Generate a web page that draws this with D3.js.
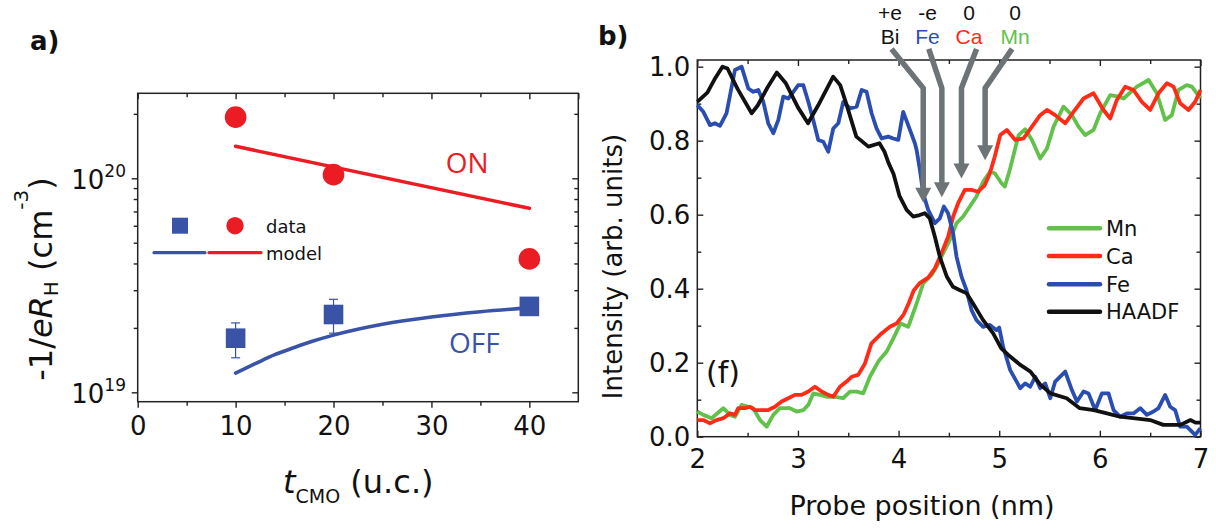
<!DOCTYPE html>
<html><head><meta charset="utf-8">
<script src="https://cdn.jsdelivr.net/npm/d3@7"></script>
<style>body{margin:0;background:#fff}svg{display:block}</style>
</head><body>
<svg id="c" width="1216" height="529"></svg>
<script>
// ---------- Panel a data ----------
const aThickness = [10, 20, 40];
const aOnData = [1.93e20, 1.04e20, 4.2e19];
const aOffData = [1.79e19, 2.31e19, 2.52e19];
const aOffErrLow = [1.45e19, 1.89e19, null];
const aOffErrHigh = [2.11e19, 2.72e19, null];
const aOnModelT = [10, 40];
const aOnModel = [1.41e20, 7.24e19];
const aOffModelT = [10, 12, 14, 16, 18, 20, 25, 30, 35, 40];
const aOffModel = [1.23e19, 1.36e19, 1.50e19, 1.62e19, 1.74e19, 1.85e19, 2.08e19, 2.25e19, 2.38e19, 2.48e19];
const aXTicks = [0, 10, 20, 30, 40];
const aXMinor = [5, 15, 25, 35];
const aYTicks = [1e19, 1e20];
const aYMinor = [2e19, 3e19, 4e19, 5e19, 6e19, 7e19, 8e19, 9e19, 2e20];

// ---------- Panel b data ----------
const bMnX = [2.0,2.06,2.142,2.258,2.325,2.374,2.44,2.507,2.556,2.623,2.689,2.755,2.821,2.92,2.987,3.053,3.103,3.152,3.219,3.285,3.351,3.45,3.517,3.583,3.649,3.715,3.798,3.881,3.947,4.02,4.096,4.179,4.244,4.328,4.377,4.443,4.509,4.576,4.642,4.708,4.774,4.84,4.907,4.956,5.023,5.056,5.105,5.155,5.192,5.258,5.325,5.407,5.474,5.54,5.639,5.722,5.788,5.854,5.937,6.003,6.103,6.185,6.235,6.368,6.484,6.566,6.649,6.715,6.781,6.864,6.914,7.0];
const bMnY = [0.068,0.059,0.05,0.077,0.059,0.054,0.086,0.081,0.077,0.045,0.027,0.059,0.077,0.077,0.068,0.072,0.086,0.117,0.113,0.108,0.108,0.104,0.122,0.122,0.117,0.162,0.203,0.23,0.265,0.306,0.297,0.36,0.414,0.437,0.459,0.496,0.532,0.577,0.595,0.622,0.649,0.689,0.716,0.712,0.685,0.676,0.721,0.775,0.815,0.831,0.802,0.752,0.779,0.838,0.892,0.869,0.838,0.815,0.829,0.874,0.923,0.919,0.914,0.946,0.964,0.928,0.856,0.869,0.937,0.95,0.946,0.914];
const bCaX = [2.0,2.06,2.126,2.192,2.258,2.325,2.374,2.407,2.474,2.523,2.573,2.639,2.705,2.772,2.838,2.904,2.97,3.036,3.103,3.169,3.235,3.301,3.351,3.417,3.483,3.533,3.599,3.666,3.73,3.831,3.914,3.98,4.05,4.1,4.15,4.21,4.294,4.361,4.427,4.493,4.542,4.592,4.658,4.725,4.79,4.857,4.907,4.956,5.01,5.076,5.159,5.242,5.325,5.407,5.474,5.556,5.656,5.738,5.838,5.937,6.036,6.103,6.169,6.252,6.334,6.417,6.5,6.583,6.666,6.732,6.798,6.881,6.947,7.0];
const bCaY = [0.045,0.045,0.036,0.045,0.05,0.063,0.059,0.077,0.077,0.081,0.072,0.072,0.072,0.081,0.095,0.104,0.113,0.113,0.122,0.135,0.122,0.113,0.108,0.135,0.149,0.162,0.167,0.198,0.252,0.279,0.297,0.306,0.33,0.36,0.395,0.415,0.43,0.455,0.496,0.541,0.595,0.631,0.667,0.667,0.662,0.68,0.712,0.757,0.815,0.829,0.802,0.806,0.838,0.869,0.883,0.869,0.847,0.878,0.914,0.928,0.883,0.86,0.91,0.946,0.937,0.905,0.883,0.928,0.955,0.946,0.901,0.883,0.905,0.937];
const bFeX = [2.0,2.06,2.126,2.175,2.225,2.29,2.374,2.44,2.507,2.556,2.606,2.656,2.705,2.755,2.805,2.854,2.904,2.954,3.003,3.053,3.103,3.152,3.202,3.252,3.301,3.351,3.401,3.45,3.517,3.583,3.633,3.682,3.732,3.781,3.831,3.897,3.947,3.997,4.046,4.113,4.162,4.179,4.212,4.244,4.294,4.361,4.41,4.45,4.492,4.542,4.576,4.626,4.675,4.725,4.774,4.84,4.907,4.973,5.0,5.039,5.109,5.209,5.258,5.308,5.358,5.407,5.457,5.507,5.556,5.656,5.722,5.772,5.838,5.887,5.954,6.02,6.086,6.136,6.202,6.268,6.334,6.401,6.467,6.533,6.583,6.649,6.699,6.748,6.798,6.864,6.947,7.0];
const bFeY = [0.896,0.878,0.842,0.847,0.84,0.874,0.991,1.0,0.941,0.932,0.937,0.905,0.847,0.82,0.856,0.919,0.914,0.932,0.95,0.95,0.905,0.856,0.802,0.797,0.77,0.833,0.847,0.905,0.887,0.892,0.937,0.932,0.874,0.833,0.806,0.811,0.806,0.802,0.878,0.829,0.793,0.775,0.721,0.658,0.613,0.577,0.59,0.622,0.604,0.55,0.486,0.432,0.396,0.342,0.315,0.297,0.302,0.288,0.295,0.243,0.18,0.131,0.144,0.135,0.162,0.131,0.144,0.104,0.149,0.176,0.126,0.095,0.122,0.117,0.072,0.117,0.117,0.072,0.054,0.063,0.063,0.077,0.059,0.068,0.077,0.113,0.081,0.072,0.027,0.027,0.005,0.023];
const bHaadfX = [2.0,2.1,2.17,2.25,2.3,2.4,2.54,2.6,2.7,2.79,2.88,3.0,3.1,3.2,3.35,3.42,3.48,3.58,3.7,3.81,3.86,3.9,3.95,4.01,4.08,4.145,4.21,4.26,4.31,4.36,4.41,4.48,4.54,4.61,4.675,4.74,4.84,4.94,5.02,5.09,5.21,5.31,5.41,5.51,5.67,5.8,5.94,6.07,6.2,6.33,6.5,6.63,6.8,6.9,6.95,7.0];
const bHaadfY = [0.905,0.93,0.965,1.0,0.995,0.94,0.874,0.895,0.945,0.984,0.955,0.89,0.847,0.895,0.973,0.95,0.9,0.811,0.784,0.793,0.77,0.74,0.71,0.65,0.613,0.595,0.599,0.604,0.59,0.541,0.486,0.432,0.405,0.396,0.388,0.36,0.315,0.279,0.239,0.221,0.194,0.176,0.14,0.117,0.104,0.077,0.072,0.063,0.054,0.05,0.045,0.032,0.032,0.045,0.038,0.038];
const bXTicks = [2, 3, 4, 5, 6, 7];
const bXMinor = [2.5, 3.5, 4.5, 5.5, 6.5];
const bYTicks = [0, 0.2, 0.4, 0.6, 0.8, 1.0];
const bYMinor = [0.1, 0.3, 0.5, 0.7, 0.9];
const bSeriesNames = ["Mn", "Ca", "Fe", "HAADF"];
const bCharges = ["+e", "-e", "0", "0"];
const bElements = ["Bi", "Fe", "Ca", "Mn"];
const bArrowTopX = [3.93, 4.30, 4.775, 5.128];
const bArrowTipX = [4.245, 4.43, 4.625, 4.86];
const bArrowTipY = [0.632, 0.647, 0.698, 0.747];

// ---------- styles ----------
const FONT = "DejaVu Sans, Liberation Sans, sans-serif";
const FONT2 = "Open Sans, Liberation Sans, sans-serif";
const FONT3 = "Liberation Sans, Arial, sans-serif";
const RED_A = "#ec1c24", BLUE_A = "#3953a6";
const C_MN = "#62c14a", C_CA = "#ff2b16", C_FE = "#2a4db2", C_HA = "#111111";
const ARROW = "#6c7477";

const svg = d3.select("#c");
svg.append("rect").attr("width", 1216).attr("height", 529).attr("fill", "#fff");

// ================= PANEL A =================
const xA = d3.scaleLinear().domain([0, 45]).range([137.7, 578.3]);
const yA = d3.scaleLog().domain([9.04e18, 2.495e20]).range([401.7, 93.3]);
const gA = svg.append("g");

function styleAxis(g) {
  g.select(".domain").remove();
  g.selectAll("line").attr("stroke", "#222").attr("stroke-width", 1.4);
}
// bottom (outward)
gA.append("g").attr("transform", `translate(0,${yA.range()[0]})`)
  .call(d3.axisBottom(xA).tickValues(aXTicks).tickSize(6).tickFormat(d3.format("d")))
  .call(styleAxis)
  .call(g => g.selectAll("text").attr("y", 33.3).attr("dy", null)
    .attr("font-family", FONT).attr("font-size", 26).attr("fill", "#111"));
gA.append("g").attr("transform", `translate(0,${yA.range()[0]})`)
  .call(d3.axisBottom(xA).tickValues(aXMinor).tickSize(4).tickFormat(""))
  .call(styleAxis);
// top (inward)
gA.append("g").attr("transform", `translate(0,${yA.range()[1]})`)
  .call(d3.axisTop(xA).tickValues(aXTicks.concat([45])).tickSize(-6).tickFormat(""))
  .call(styleAxis);
gA.append("g").attr("transform", `translate(0,${yA.range()[1]})`)
  .call(d3.axisTop(xA).tickValues(aXMinor).tickSize(-4).tickFormat(""))
  .call(styleAxis);
// left (outward)
gA.append("g").attr("transform", `translate(${xA.range()[0]},0)`)
  .call(d3.axisLeft(yA).tickValues(aYTicks).tickSize(6).tickFormat(""))
  .call(styleAxis);
gA.append("g").attr("transform", `translate(${xA.range()[0]},0)`)
  .call(d3.axisLeft(yA).tickValues(aYMinor).tickSize(4).tickFormat(""))
  .call(styleAxis);
// right (inward)
gA.append("g").attr("transform", `translate(${xA.range()[1]},0)`)
  .call(d3.axisRight(yA).tickValues(aYTicks).tickSize(-6).tickFormat(""))
  .call(styleAxis);
gA.append("g").attr("transform", `translate(${xA.range()[1]},0)`)
  .call(d3.axisRight(yA).tickValues(aYMinor).tickSize(-4).tickFormat(""))
  .call(styleAxis);
// y tick labels 10^n
aYTicks.forEach(v => {
  const t = gA.append("text").attr("x", 126).attr("y", yA(v) + 11)
    .attr("text-anchor", "end").attr("font-family", FONT).attr("fill", "#111");
  t.append("tspan").attr("font-size", 26).text("10");
  t.append("tspan").attr("font-size", 17).attr("dy", -12).text(String(Math.round(Math.log10(v))));
});
// frame
gA.append("rect").attr("x", xA.range()[0]).attr("y", yA.range()[1])
  .attr("width", xA.range()[1] - xA.range()[0]).attr("height", yA.range()[0] - yA.range()[1])
  .attr("fill", "none").attr("stroke", "#222").attr("stroke-width", 1.5);

// model lines
const lineA = d3.line().x(d => xA(d[0])).y(d => yA(d[1]));
gA.append("path").datum(d3.zip(aOnModelT, aOnModel)).attr("d", lineA)
  .attr("fill", "none").attr("stroke", RED_A).attr("stroke-width", 3.6).attr("stroke-linecap", "round");
gA.append("path").datum(d3.zip(aOffModelT, aOffModel)).attr("d", lineA.curve(d3.curveMonotoneX))
  .attr("fill", "none").attr("stroke", BLUE_A).attr("stroke-width", 3.6).attr("stroke-linecap", "round");

// error bars
aThickness.forEach((t, i) => {
  if (aOffErrLow[i] == null) return;
  const x = xA(t), y1 = yA(aOffErrLow[i]), y2 = yA(aOffErrHigh[i]);
  gA.append("line").attr("x1", x).attr("x2", x).attr("y1", y1).attr("y2", y2)
    .attr("stroke", BLUE_A).attr("stroke-width", 1.2);
  [y1, y2].forEach(y => gA.append("line").attr("x1", x - 4.5).attr("x2", x + 4.5).attr("y1", y).attr("y2", y)
    .attr("stroke", BLUE_A).attr("stroke-width", 1.2));
});
// data markers
gA.selectAll("rect.sq").data(d3.zip(aThickness, aOffData)).join("rect").attr("class", "sq")
  .attr("x", d => xA(d[0]) - 9.8).attr("y", d => yA(d[1]) - 9.8).attr("width", 19.6).attr("height", 19.6)
  .attr("fill", BLUE_A);
gA.selectAll("circle.on").data(d3.zip(aThickness, aOnData)).join("circle").attr("class", "on")
  .attr("cx", d => xA(d[0])).attr("cy", d => yA(d[1])).attr("r", 10.8).attr("fill", RED_A);

// ON / OFF labels
gA.append("text").attr("x", 445.7).attr("y", 173.3).attr("font-family", FONT2).attr("font-size", 28)
  .attr("fill", RED_A).text("ON");
gA.append("text").attr("x", 449).attr("y", 353).attr("font-family", FONT2).attr("font-size", 28)
  .attr("fill", BLUE_A).text("OFF");

// legend
gA.append("rect").attr("x", 172).attr("y", 217.7).attr("width", 16).attr("height", 16).attr("fill", BLUE_A);
gA.append("circle").attr("cx", 235).attr("cy", 225.7).attr("r", 8.7).attr("fill", RED_A);
gA.append("text").attr("x", 266).attr("y", 233).attr("font-family", FONT).attr("font-size", 18)
  .attr("fill", "#111").text("data");
gA.append("line").attr("x1", 154).attr("x2", 205).attr("y1", 252.7).attr("y2", 252.7)
  .attr("stroke", BLUE_A).attr("stroke-width", 3.2).attr("stroke-linecap", "round");
gA.append("line").attr("x1", 209).attr("x2", 261).attr("y1", 252.7).attr("y2", 252.7)
  .attr("stroke", RED_A).attr("stroke-width", 3.2).attr("stroke-linecap", "round");
gA.append("text").attr("x", 266).attr("y", 260).attr("font-family", FONT).attr("font-size", 18)
  .attr("fill", "#111").text("model");

// axis titles
{
  const t = gA.append("text").attr("x", 283).attr("y", 492.5).attr("font-family", FONT).attr("fill", "#111");
  t.append("tspan").attr("font-size", 32).attr("font-style", "italic").text("t");
  t.append("tspan").attr("font-size", 19).attr("dy", 10.5).text("CMO");
  t.append("tspan").attr("font-size", 32).attr("dy", -10.5).text(" (u.c.)");
}
{
  const t = gA.append("text").attr("transform", "translate(52,279) rotate(-90)")
    .attr("text-anchor", "middle").attr("font-family", FONT).attr("fill", "#111").attr("font-size", 32);
  t.append("tspan").text("-1/");
  t.append("tspan").attr("font-style", "italic").text("eR");
  t.append("tspan").attr("font-size", 20).attr("dy", 6).text("H");
  t.append("tspan").attr("dy", -6).text(" (cm");
  t.append("tspan").attr("font-size", 20).attr("dy", -24).text("-3");
  t.append("tspan").attr("dy", 24).text(")");
}
svg.append("text").attr("x", 30).attr("y", 50).attr("font-family", FONT).attr("font-weight", "bold")
  .attr("font-size", 26).attr("fill", "#111").text("a)");

// ================= PANEL B =================
const xB = d3.scaleLinear().domain([2, 7]).range([697.3, 1200.5]);
const yB = d3.scaleLinear().domain([0, 1.018]).range([436.7, 60]);
const gB = svg.append("g");

gB.append("g").attr("transform", `translate(0,${yB.range()[0]})`)
  .call(d3.axisBottom(xB).tickValues(bXTicks).tickSize(-6).tickFormat(d3.format("d")))
  .call(styleAxis)
  .call(g => g.selectAll("text").attr("y", 31.3).attr("dy", null)
    .attr("font-family", FONT).attr("font-size", 26).attr("fill", "#111"));
gB.append("g").attr("transform", `translate(0,${yB.range()[0]})`)
  .call(d3.axisBottom(xB).tickValues(bXMinor).tickSize(-4).tickFormat("")).call(styleAxis);
gB.append("g").attr("transform", `translate(0,${yB.range()[1]})`)
  .call(d3.axisTop(xB).tickValues(bXTicks).tickSize(-6).tickFormat("")).call(styleAxis);
gB.append("g").attr("transform", `translate(0,${yB.range()[1]})`)
  .call(d3.axisTop(xB).tickValues(bXMinor).tickSize(-4).tickFormat("")).call(styleAxis);
gB.append("g").attr("transform", `translate(${xB.range()[0]},0)`)
  .call(d3.axisLeft(yB).tickValues(bYTicks).tickSize(-6).tickFormat(d3.format(".1f")))
  .call(styleAxis)
  .call(g => g.selectAll("text").attr("x", -7).attr("dy", null).attr("y", 9)
    .attr("font-family", FONT).attr("font-size", 26).attr("fill", "#111"));
gB.append("g").attr("transform", `translate(${xB.range()[0]},0)`)
  .call(d3.axisLeft(yB).tickValues(bYMinor).tickSize(-4).tickFormat("")).call(styleAxis);
gB.append("g").attr("transform", `translate(${xB.range()[1]},0)`)
  .call(d3.axisRight(yB).tickValues(bYTicks).tickSize(-6).tickFormat("")).call(styleAxis);
gB.append("g").attr("transform", `translate(${xB.range()[1]},0)`)
  .call(d3.axisRight(yB).tickValues(bYMinor).tickSize(-4).tickFormat("")).call(styleAxis);
gB.append("rect").attr("x", xB.range()[0]).attr("y", yB.range()[1])
  .attr("width", xB.range()[1] - xB.range()[0]).attr("height", yB.range()[0] - yB.range()[1])
  .attr("fill", "none").attr("stroke", "#222").attr("stroke-width", 1.5);

const lineB = d3.line().x(d => xB(d[0])).y(d => yB(d[1]));
const bSeries = [
  [bMnX, bMnY, C_MN], [bCaX, bCaY, C_CA], [bFeX, bFeY, C_FE], [bHaadfX, bHaadfY, C_HA]
];
bSeries.forEach(([xs, ys, c]) => {
  gB.append("path").datum(d3.zip(xs, ys)).attr("d", lineB).attr("fill", "none")
    .attr("stroke", c).attr("stroke-width", 3.8).attr("stroke-linejoin", "round");
});

// arrows
bArrowTipX.forEach((tx, i) => {
  const x0 = xB(bArrowTopX[i]), y0 = yB(1.048);
  const xb = xB(tx), yb = yB(0.942);
  const yt = yB(bArrowTipY[i]);
  const headL = 15, headW = 8;
  gB.append("path").attr("d", `M${x0},${y0}L${xb},${yb}L${xb},${yt - headL + 2}`)
    .attr("fill", "none").attr("stroke", ARROW).attr("stroke-width", 5.5).attr("stroke-linejoin", "miter");
  gB.append("path").attr("d", `M${xb - headW},${yt - headL}L${xb + headW},${yt - headL}L${xb},${yt}Z`)
    .attr("fill", ARROW);
});
// labels above arrows
const labelX = [890, 927.5, 969, 1015];
const elColors = ["#111", C_FE, C_CA, C_MN];
bCharges.forEach((c, i) => {
  gB.append("text").attr("x", labelX[i]).attr("y", 20).attr("text-anchor", "middle")
    .attr("font-family", FONT3).attr("font-size", 21).attr("fill", "#111").text(c);
  gB.append("text").attr("x", labelX[i]).attr("y", 44).attr("text-anchor", "middle")
    .attr("font-family", FONT3).attr("font-size", 21).attr("fill", elColors[i]).text(bElements[i]);
});

// legend
const legY = [228.3, 256, 284.3, 311.7];
const legC = [C_MN, C_CA, C_FE, C_HA];
bSeriesNames.forEach((n, i) => {
  gB.append("line").attr("x1", 1049).attr("x2", 1100).attr("y1", legY[i]).attr("y2", legY[i])
    .attr("stroke", legC[i]).attr("stroke-width", 4.5).attr("stroke-linecap", "round");
  gB.append("text").attr("x", 1106).attr("y", legY[i] + 7.6).attr("font-family", FONT)
    .attr("font-size", 21).attr("fill", "#111").text(n);
});
gB.append("text").attr("x", 706).attr("y", 382.5).attr("font-family", FONT).attr("font-size", 30)
  .attr("fill", "#111").text("(f)");

// titles
gB.append("text").attr("x", 922).attr("y", 515).attr("text-anchor", "middle").attr("font-family", FONT)
  .attr("font-size", 27).attr("fill", "#111").text("Probe position (nm)");
gB.append("text").attr("transform", "translate(622,266.5) rotate(-90)").attr("text-anchor", "middle")
  .attr("font-family", FONT).attr("font-size", 26).attr("fill", "#111").text("Intensity (arb. units)");
svg.append("text").attr("x", 598).attr("y", 45).attr("font-family", FONT).attr("font-weight", "bold")
  .attr("font-size", 26).attr("fill", "#111").text("b)");
</script>
</body></html>
